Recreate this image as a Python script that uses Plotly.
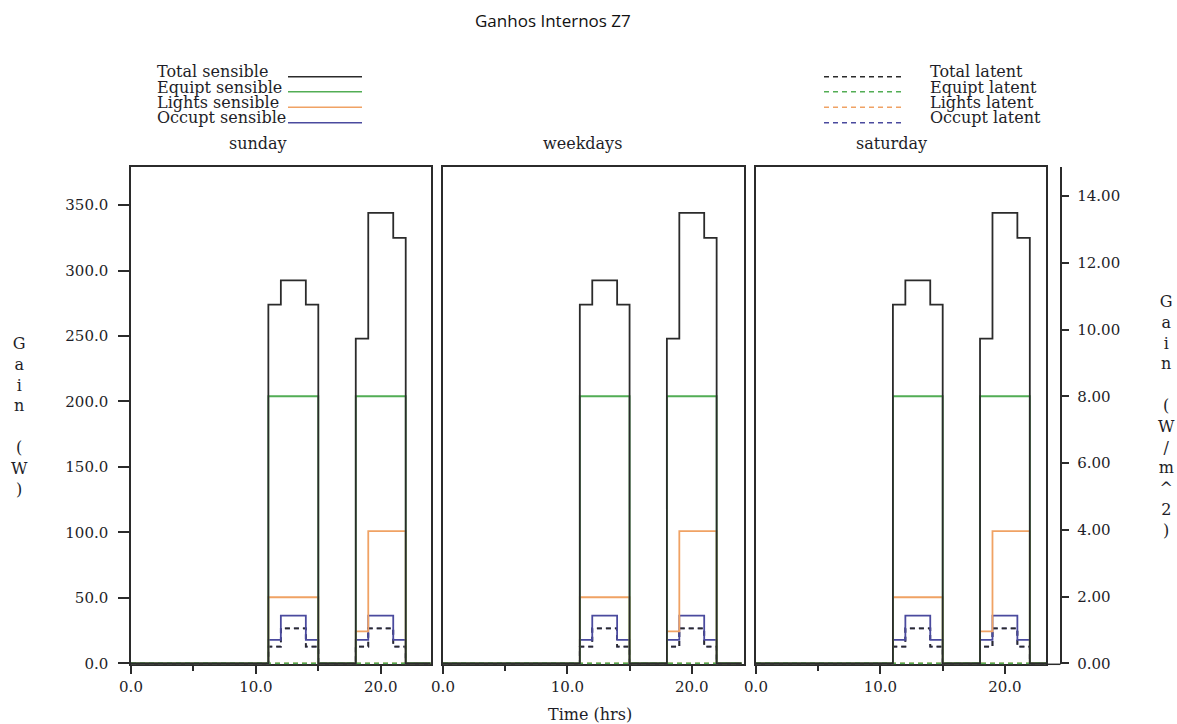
import plotly.graph_objects as go

# ---------------- data (hourly values, hour 0..23) ----------------
hours = list(range(25))  # step edges 0..24

total_sensible = [0]*11 + [274, 292.5, 292.5, 274] + [0, 0, 0] + [248, 344, 344, 325] + [0, 0]
equipt_sensible = [0]*11 + [204, 204, 204, 204] + [0, 0, 0] + [204, 204, 204, 204] + [0, 0]
lights_sensible = [0]*11 + [50.5, 50.5, 50.5, 50.5] + [0, 0, 0] + [24.5, 101, 101, 101] + [0, 0]
occupt_sensible = [0]*11 + [18, 36.5, 36.5, 18] + [0, 0, 0] + [18, 36.5, 36.5, 18] + [0, 0]
total_latent = [0]*11 + [12.8, 26.8, 26.8, 12.8] + [0, 0, 0] + [12.8, 26.8, 26.8, 12.8] + [0, 0]
equipt_latent = [0]*24
lights_latent = [0]*24
occupt_latent = [0]*11 + [12.8, 26.8, 26.8, 12.8] + [0, 0, 0] + [12.8, 26.8, 26.8, 12.8] + [0, 0]

panels = ["sunday", "weekdays", "saturday"]
x_ticks = [0, 10, 20]
x_ticktext = ["0.0", "10.0", "20.0"]
y_ticks = [0, 50, 100, 150, 200, 250, 300, 350]
y_ticktext = ["0.0", "50.0", "100.0", "150.0", "200.0", "250.0", "300.0", "350.0"]
y2_ticks = [0, 2, 4, 6, 8, 10, 12, 14]
y2_ticktext = ["0.00", "2.00", "4.00", "6.00", "8.00", "10.00", "12.00", "14.00"]

# ---------------- styling ----------------
W, H = 1177, 724
BLACK = "#2b2b2b"
GREEN = "#52ad55"
ORANGE = "#f0a264"
BLUE = "#4a4a9e"
SERIF = "DejaVu Serif"
TXT = "#1e1e28"
AREA = 25.49  # W per (W/m^2), ratio between left and right scales

def px(x):
    return x / W

def py(y):
    return 1 - y / H

series = [
    ("Lights latent", lights_latent, ORANGE, "5px,4px"),
    ("Occupt latent", occupt_latent, BLUE, "5px,4px"),
    ("Total latent", total_latent, BLACK, "5px,4px"),
    ("Occupt sensible", occupt_sensible, BLUE, "solid"),
    ("Lights sensible", lights_sensible, ORANGE, "solid"),
    ("Equipt sensible", equipt_sensible, GREEN, "solid"),
    ("Equipt latent", equipt_latent, GREEN, "5px,4px"),
    ("Total sensible", total_sensible, BLACK, "solid"),
]

fig = go.Figure()
for i, p in enumerate(panels):
    xa = "x" if i == 0 else f"x{i+1}"
    ya = "y" if i == 0 else f"y{i+1}"
    for name, vals, col, dash in series:
        fig.add_trace(go.Scatter(
            x=hours, y=vals + [vals[-1]], xaxis=xa, yaxis=ya, mode="lines",
            line=dict(color=col, width=1.8, dash=dash, shape="hv"),
            name=name, showlegend=False, hoverinfo="skip"))

y_dom = [py(664.3), py(166.7)]
x_doms = [[px(131), px(430.7)], [px(443), px(744)], [px(756), px(1046)]]
x_ranges = [[0, 24], [0, 24.2], [0, 23.3]]
y_range = [-0.7, 379.3]

tickfont = dict(family=SERIF, size=15, color=TXT)
layout = dict(
    width=W, height=H, margin=dict(l=0, r=0, t=0, b=0, autoexpand=False),
    paper_bgcolor="white", plot_bgcolor="white", showlegend=False,
)
for i in range(3):
    sx = "" if i == 0 else str(i + 1)
    layout[f"xaxis{sx}"] = dict(
        domain=x_doms[i], range=x_ranges[i], anchor=f"y{sx}", automargin=False,
        layer="below traces",
        tickvals=x_ticks, ticktext=x_ticktext, ticks="outside", ticklen=8,
        tickwidth=1.5, tickcolor=BLACK,
        minor=dict(tickvals=[5, 15], ticks="outside", ticklen=5, tickwidth=1.5, tickcolor=BLACK),
        showline=True, mirror=True, linecolor=BLACK, linewidth=1.5,
        showgrid=False, zeroline=False, tickfont=tickfont, fixedrange=True)
    layout[f"yaxis{sx}"] = dict(
        domain=y_dom, range=y_range, anchor=f"x{sx}", automargin=False,
        layer="below traces",
        tickvals=y_ticks, ticktext=y_ticktext, ticklabelstandoff=7,
        ticks="outside" if i == 0 else "", ticklen=11, tickwidth=1.5, tickcolor=BLACK,
        showticklabels=(i == 0),
        showline=True, mirror=True, linecolor=BLACK, linewidth=1.5,
        showgrid=False, zeroline=False, tickfont=tickfont, fixedrange=True)

layout["yaxis4"] = dict(
    overlaying="y3", side="right", anchor="free", position=px(1060.5), automargin=False,
    range=[y_range[0] / AREA, y_range[1] / AREA], tickvals=y2_ticks, ticktext=y2_ticktext,
    ticklabelstandoff=5,
    ticks="outside", ticklen=8, tickwidth=1.5, tickcolor=BLACK,
    showline=True, linecolor=BLACK, linewidth=1.5,
    showgrid=False, zeroline=False, tickfont=tickfont, fixedrange=True)

fig.update_layout(**layout)
# invisible trace to bind the right axis
fig.add_trace(go.Scatter(x=[0], y=[0], xaxis="x3", yaxis="y4", mode="markers",
                         marker=dict(opacity=0), showlegend=False, hoverinfo="skip"))

shapes = []
# bottom axis extension under the right axis
shapes.append(dict(type="line", xref="paper", yref="paper",
                   x0=px(1046), x1=px(1060.5), y0=py(664.3), y1=py(664.3),
                   line=dict(color=BLACK, width=1.5)))

def ann(text, x, y, size, family=SERIF, xanchor="center", color=TXT, align="center"):
    return dict(text=text, x=px(x), y=py(y), xref="paper", yref="paper",
                xanchor=xanchor, yanchor="middle", showarrow=False, align=align,
                font=dict(family=family, size=size, color=color))

annotations = []
annotations.append(ann("Ganhos Internos Z7", 553, 20, 17, family="Open Sans", color="#111"))
for name, cx in zip(panels, [258, 582, 891]):
    annotations.append(ann(name, cx, 144, 16))

left_names = ["Total sensible", "Equipt sensible", "Lights sensible", "Occupt sensible"]
left_cols = [BLACK, GREEN, ORANGE, BLUE]
right_names = ["Total latent", "Equipt latent", "Lights latent", "Occupt latent"]
text_y = [72, 87, 102, 118]
line_y = [76.7, 91.7, 107.3, 122.7]
for k in range(4):
    annotations.append(ann(left_names[k], 155, text_y[k], 16, xanchor="left"))
    shapes.append(dict(type="line", xref="paper", yref="paper", x0=px(288), x1=px(362),
                       y0=py(line_y[k]), y1=py(line_y[k]), line=dict(color=left_cols[k], width=1.6)))
    annotations.append(ann(right_names[k], 928, text_y[k], 16, xanchor="left"))
    shapes.append(dict(type="line", xref="paper", yref="paper", x0=px(824), x1=px(902),
                       y0=py(line_y[k]), y1=py(line_y[k]),
                       line=dict(color=left_cols[k], width=1.6, dash="5px,4px")))

annotations.append(ann("Time (hrs)", 590, 714, 16))
annotations.append(ann("G<br>a<br>i<br>n<br> <br>(<br>W<br>)", 19, 416, 16))
annotations.append(ann("G<br>a<br>i<br>n<br> <br>(<br>W<br>/<br>m<br>^<br>2<br>)", 1166, 415.5, 16))

fig.update_layout(shapes=shapes, annotations=annotations)
fig.write_html("out.html")
